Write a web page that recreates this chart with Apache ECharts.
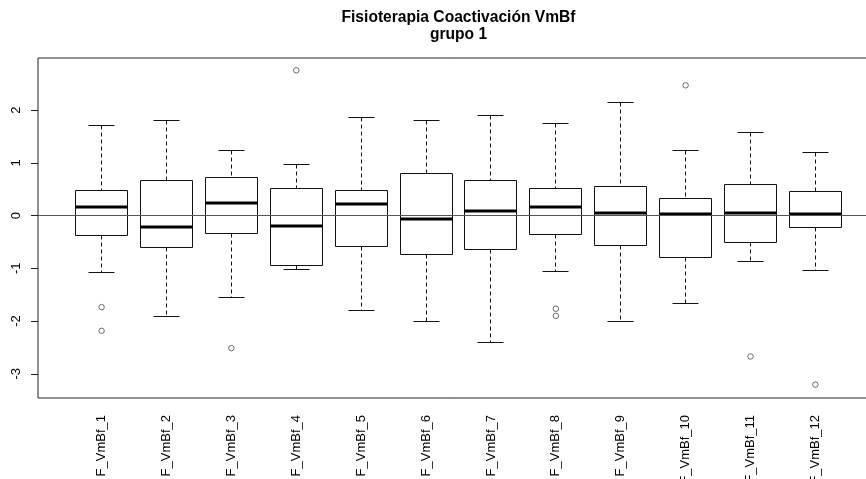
<!DOCTYPE html>
<html>
<head>
<meta charset="utf-8">
<script src="https://cdn.jsdelivr.net/npm/echarts@6/dist/echarts.min.js"></script>
<style>
html,body{margin:0;padding:0;background:#fff;}
#chart{width:866px;height:479px;}
</style>
</head>
<body>
<div id="chart"></div>
<script>
const titleLines = ['Fisioterapia Coactivación VmBf', 'grupo 1'];
const categories = ['F_VmBf_1','F_VmBf_2','F_VmBf_3','F_VmBf_4','F_VmBf_5','F_VmBf_6','F_VmBf_7','F_VmBf_8','F_VmBf_9','F_VmBf_10','F_VmBf_11','F_VmBf_12'];
const lowerWhisker = [-1.077, -1.907, -1.552, -1.026, -1.793, -2.002, -2.408, -1.058, -2.002, -1.660, -0.875, -1.032];
const q1 = [-0.373, -0.608, -0.335, -0.937, -0.595, -0.734, -0.639, -0.354, -0.564, -0.798, -0.513, -0.234];
const median = [0.159, -0.215, 0.235, -0.202, 0.222, -0.063, 0.089, 0.159, 0.045, 0.026, 0.045, 0.026];
const q3 = [0.483, 0.666, 0.723, 0.520, 0.470, 0.799, 0.672, 0.520, 0.558, 0.330, 0.590, 0.463];
const upperWhisker = [1.705, 1.813, 1.243, 0.970, 1.864, 1.813, 1.902, 1.756, 2.149, 1.243, 1.585, 1.205];
// outliers: [box number (1-based), value]
const outliers = [[1,-1.736],[1,-2.186],[3,-2.515],[4,2.757],[8,-1.767],[8,-1.901],[10,2.472],[11,-2.673],[12,-3.206]];
const yTicks = [-3,-2,-1,0,1,2];
const xTicks = categories.map((c, i) => i + 1);

const boxData = categories.map((c, i) => [i + 1, lowerWhisker[i], q1[i], median[i], q3[i], upperWhisker[i]]);

const FONT = "'Liberation Sans', Arial, Helvetica, sans-serif";
const chart = echarts.init(document.getElementById('chart'), null, {renderer: 'canvas'});

function px(v) { return Math.round(v - 0.5) + 0.5; }

chart.setOption({
  animation: false,
  backgroundColor: '#fff',
  graphic: [
    {type: 'text', x: 458.5, y: 17.5, style: {text: titleLines[0], align: 'center', verticalAlign: 'middle', font: 'bold 15.6px ' + FONT, fill: '#000'}},
    {type: 'text', x: 458.5, y: 34.5, style: {text: titleLines[1], align: 'center', verticalAlign: 'middle', font: 'bold 15.6px ' + FONT, fill: '#000'}}
  ],
  grid: {left: 38, top: 58, width: 841, height: 340, show: true, borderColor: '#222', borderWidth: 1, backgroundColor: 'transparent', containLabel: false, outerBoundsMode: 'none'},
  xAxis: {
    type: 'value', min: 0.02, max: 12.98,
    axisLine: {show: false},
    splitLine: {show: false},
    axisTick: {show: true, customValues: xTicks, length: 7, lineStyle: {color: '#222'}},
    axisLabel: {show: true, customValues: xTicks, rotate: 90, margin: 17, fontSize: 13, fontFamily: FONT, color: '#000',
      formatter: v => categories[Math.round(v) - 1] || ''}
  },
  yAxis: {
    type: 'value', min: -3.46, max: 2.99,
    axisLine: {show: false},
    splitLine: {show: false},
    axisTick: {show: true, customValues: yTicks, length: 7, lineStyle: {color: '#222'}},
    axisLabel: {show: true, customValues: yTicks, rotate: 90, margin: 15, fontSize: 13, fontFamily: FONT, color: '#000'}
  },
  series: [
    {
      type: 'custom',
      data: boxData,
      encode: {x: 0, y: [1, 2, 3, 4, 5]},
      z: 2,
      renderItem: function (params, api) {
        const x = api.value(0);
        const pLw = api.coord([x, api.value(1)]);
        const pQ1 = api.coord([x, api.value(2)]);
        const pMed = api.coord([x, api.value(3)]);
        const pQ3 = api.coord([x, api.value(4)]);
        const pUw = api.coord([x, api.value(5)]);
        const halfBox = api.size([0.8, 0])[0] / 2;
        const halfCap = api.size([0.4, 0])[0] / 2;
        const cx = px(pMed[0]);
        const stroke = '#111';
        const bl = px(pMed[0] - halfBox), br = px(pMed[0] + halfBox);
        const yQ3 = px(pQ3[1]), yQ1 = px(pQ1[1]);
        return {
          type: 'group',
          children: [
            {type: 'line', shape: {x1: cx, y1: px(pUw[1]), x2: cx, y2: yQ3}, style: {stroke: stroke, lineWidth: 1, lineDash: [4, 3]}},
            {type: 'line', shape: {x1: cx, y1: yQ1, x2: cx, y2: px(pLw[1])}, style: {stroke: stroke, lineWidth: 1, lineDash: [4, 3]}},
            {type: 'line', shape: {x1: px(pMed[0] - halfCap), y1: px(pUw[1]), x2: px(pMed[0] + halfCap), y2: px(pUw[1])}, style: {stroke: stroke, lineWidth: 1}},
            {type: 'line', shape: {x1: px(pMed[0] - halfCap), y1: px(pLw[1]), x2: px(pMed[0] + halfCap), y2: px(pLw[1])}, style: {stroke: stroke, lineWidth: 1}},
            {type: 'rect', shape: {x: bl, y: yQ3, width: br - bl, height: yQ1 - yQ3}, style: {stroke: stroke, fill: '#fff', lineWidth: 1}},
            {type: 'line', shape: {x1: bl, y1: Math.round(pMed[1]), x2: br, y2: Math.round(pMed[1])}, style: {stroke: '#000', lineWidth: 3}}
          ]
        };
      }
    },
    {
      type: 'scatter',
      data: outliers,
      symbol: 'circle',
      symbolSize: 5.5,
      z: 3,
      itemStyle: {color: 'rgba(255,255,255,0)', borderColor: '#333', borderWidth: 0.9},
      markLine: {
        silent: true,
        symbol: ['none', 'none'],
        label: {show: false},
        lineStyle: {color: '#555', width: 1, type: 'solid'},
        data: [{yAxis: 0}]
      }
    }
  ]
});
</script>
</body>
</html>
